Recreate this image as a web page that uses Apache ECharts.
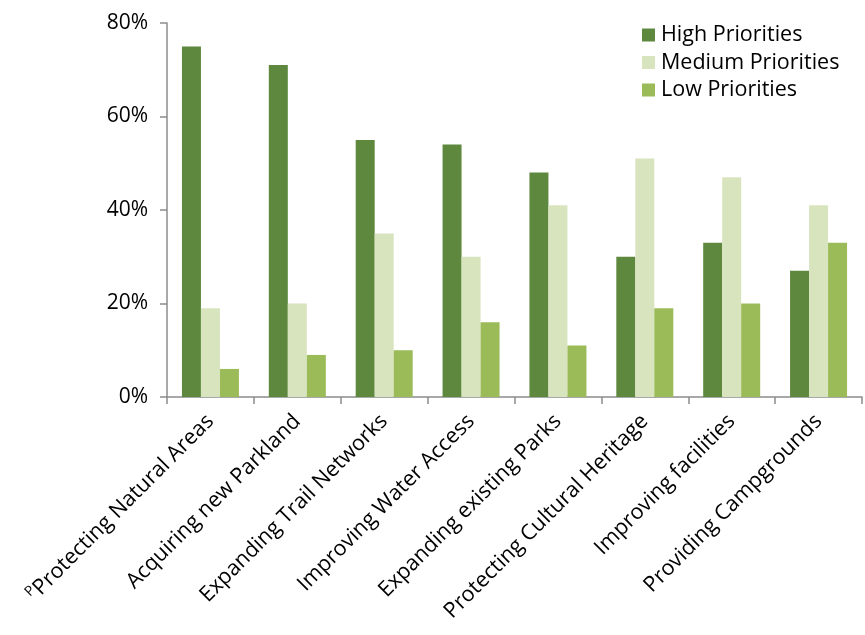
<!DOCTYPE html>
<html><head><meta charset="utf-8">
<script src="https://cdn.jsdelivr.net/npm/echarts@6/dist/echarts.min.js"></script>
<style>html,body{margin:0;padding:0;background:#fff}#c{width:865px;height:635px}</style>
</head><body><div id="c"></div>
<script>
const categories = ["Protecting Natural Areas","Acquiring new Parkland","Expanding Trail Networks","Improving Water Access","Expanding existing Parks","Protecting Cultural Heritage","Improving facilities","Providing Campgrounds"];
const highValues = [75,71,55,54,48,30,33,27];
const mediumValues = [19,20,35,30,41,51,47,41];
const lowValues = [6,9,10,16,11,19,20,33];
const yTicks = [0,20,40,60,80];

const chart = echarts.init(document.getElementById('c'));
const font = '"Open Sans", "Noto Sans", sans-serif';
chart.setOption({
  animation:false,
  textStyle:{fontFamily:font},
  grid:{left:167,right:3,top:23,bottom:238,containLabel:false},
  legend:{
    orient:'vertical', left:637, top:19, itemWidth:13, itemHeight:13, itemGap:5.5,
    icon:'rect',
    textStyle:{fontSize:21.5,lineHeight:22,color:'#000',fontFamily:font,padding:[0,0,0,1]},
    data:['High Priorities','Medium Priorities','Low Priorities']
  },
  xAxis:{
    type:'category', data:categories,
    axisLine:{lineStyle:{color:'#8c8c8c',width:1.5}},
    axisTick:{show:true,alignWithLabel:false,length:7,lineStyle:{color:'#8c8c8c',width:1.5}},
    axisLabel:{rotate:45,interval:0,margin:21,fontSize:21.5,color:'#000',fontFamily:font,
      formatter:function(v,i){return i===0?'{s|P}'+v:v;},
      rich:{s:{fontSize:14,color:'#000',verticalAlign:'top',padding:[0,0,10,0]}}}
  },
  yAxis:{
    type:'value', min:yTicks[0], max:yTicks[yTicks.length-1], interval:20,
    axisLine:{show:true,lineStyle:{color:'#8c8c8c',width:1.5}},
    axisTick:{show:true,length:7,lineStyle:{color:'#8c8c8c',width:1.5}},
    splitLine:{show:false},
    axisLabel:{formatter:'{value}%',fontSize:21,color:'#000',margin:19,fontFamily:font}
  },
  series:[
    {name:'High Priorities',type:'bar',data:highValues,barWidth:19,barGap:'0%',itemStyle:{color:'#5d883d'}},
    {name:'Medium Priorities',type:'bar',data:mediumValues,barWidth:19,barGap:'0%',itemStyle:{color:'#d8e4bd'}},
    {name:'Low Priorities',type:'bar',data:lowValues,barWidth:19,barGap:'0%',itemStyle:{color:'#9bbb59'}}
  ]
});
</script></body></html>
